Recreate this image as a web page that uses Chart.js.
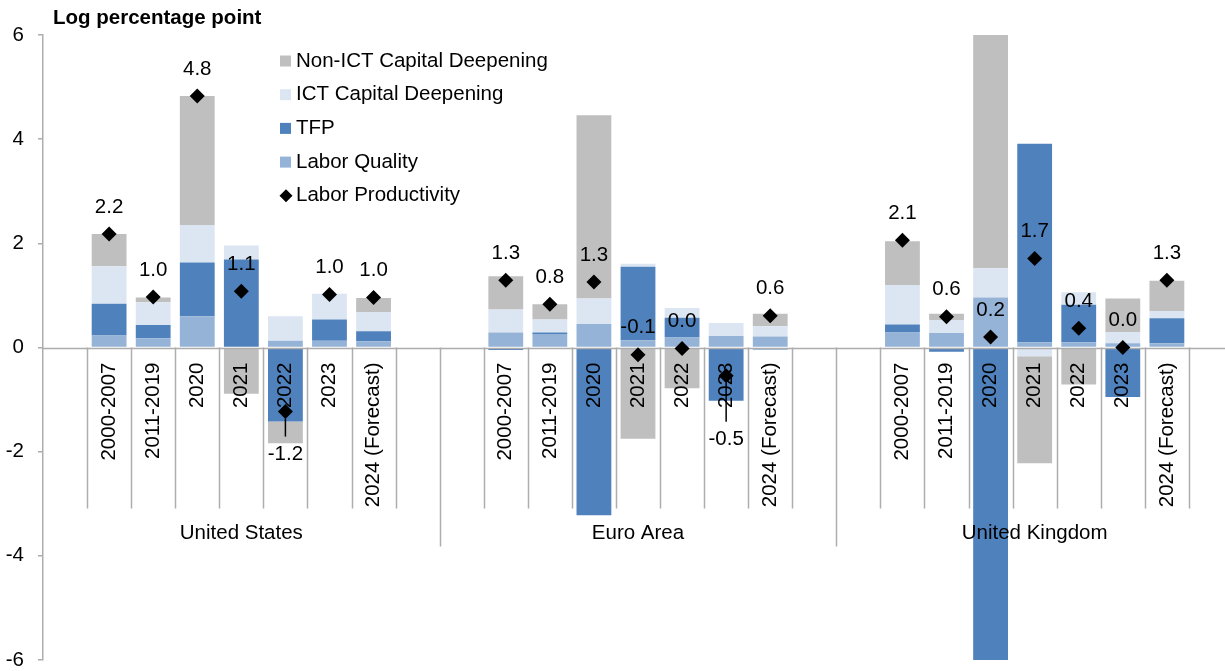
<!DOCTYPE html>
<html>
<head>
<meta charset="utf-8">
<script src="https://cdn.jsdelivr.net/npm/chart.js@4/dist/chart.umd.min.js"></script>
<style>
  html, body { margin: 0; padding: 0; background: #fff; overflow: hidden; }
  #wrap { width: 1233px; height: 671px; }
</style>
</head>
<body>
<div id="wrap"><canvas id="prodChart" width="1233" height="671"></canvas></div>
<script>
const groups = ["United States", "Euro Area", "United Kingdom"];
const periods = ["2000-2007", "2011-2019", "2020", "2021", "2022", "2023", "2024 (Forecast)"];
const yTicks = [-6, -4, -2, 0, 2, 4, 6];

// 7 values per group, in order US, Euro Area, UK
const laborQuality = [
  0.23, 0.18, 0.60, 0.00, 0.13, 0.13, 0.12,
  0.29, 0.26, 0.45, 0.14, 0.19, 0.22, 0.21,
  0.29, 0.28, 0.96, 0.10, 0.10, 0.08, 0.08,
];
const tfp = [
  0.61, 0.25, 1.03, 1.69, -1.42, 0.41, 0.19,
  -0.05, 0.03, -3.22, 1.41, 0.38, -1.02, -0.04,
  0.15, -0.08, -6.90, 3.81, 0.72, -0.95, 0.48,
];
const ictCapital = [
  0.72, 0.44, 0.72, 0.27, 0.47, 0.49, 0.37,
  0.44, 0.25, 0.49, 0.06, 0.19, 0.25, 0.20,
  0.76, 0.25, 0.56, -0.17, 0.24, 0.22, 0.14,
];
const nonIctCapital = [
  0.62, 0.09, 2.48, -0.89, -0.42, 0.00, 0.27,
  0.64, 0.29, 3.52, -1.75, -0.78, 0.00, 0.24,
  0.84, 0.12, 5.60, -2.05, -0.71, 0.64, 0.58,
];
const laborProductivity = [
  2.18, 0.97, 4.83, 1.08, -1.23, 1.02, 0.96,
  1.29, 0.83, 1.26, -0.14, -0.02, -0.54, 0.61,
  2.06, 0.59, 0.20, 1.71, 0.37, 0.00, 1.29,
];

const FONT = '"Liberation Sans", Arial, sans-serif';
const FSIZE = 20.5;
const AXIS_GREY = "#ADADAD";

// each group gets an empty slot on both sides
const slotLabels = [];
groups.forEach(() => slotLabels.push("", ...periods, ""));
function pad(values) {
  const out = [];
  groups.forEach((g, gi) => out.push(null, ...values.slice(gi * 7, gi * 7 + 7), null));
  return out;
}

// labels that sit below the marker with a leader line: padded index -> px below
const labelsBelow = { 5: 43, 15: 64 };

function fmt(v) {
  const s = v.toFixed(1);
  return s === "-0.0" ? "0.0" : s;
}

const decor = {
  id: "decor",
  beforeDatasetDraw(chart, args) {
    if (args.index !== 4) return;
    const ctx = chart.ctx;
    const x = chart.scales.x, y = chart.scales.y;
    const area = chart.chartArea;
    const y0 = y.getPixelForValue(0);
    const slot = (area.right - area.left) / slotLabels.length;
    ctx.save();
    // separators
    ctx.strokeStyle = AXIS_GREY;
    ctx.lineWidth = 1.5;
    for (let i = 1; i < slotLabels.length; i++) {
      const bx = Math.round(area.left + slot * i) + 0.5;
      const isGroupEdge = i % 9 === 0;
      const inGroup = i % 9 >= 1 && i % 9 <= 8;
      if (!isGroupEdge && !inGroup) continue;
      ctx.beginPath();
      ctx.moveTo(bx, y0);
      ctx.lineTo(bx, y0 + (isGroupEdge ? 199 : 161));
      ctx.stroke();
    }
    // zero line
    ctx.beginPath();
    ctx.moveTo(area.left, Math.round(y0) + 0.5);
    ctx.lineTo(area.right, Math.round(y0) + 0.5);
    ctx.stroke();

    // category labels
    ctx.fillStyle = "#000";
    ctx.font = FSIZE + "px " + FONT;
    slotLabels.forEach((lab, i) => {
      if (!lab) return;
      ctx.save();
      ctx.translate(x.getPixelForValue(i), y0 + 15);
      ctx.rotate(-Math.PI / 2);
      ctx.textAlign = "right";
      ctx.textBaseline = "middle";
      ctx.fillText(lab, 0, 0);
      ctx.restore();
    });
    // group labels
    ctx.textAlign = "center";
    ctx.textBaseline = "middle";
    groups.forEach((g, gi) => {
      ctx.fillText(g, x.getPixelForValue(gi * 9 + 4), y0 + 186);
    });
    ctx.restore();
  },
  afterDatasetsDraw(chart) {
    const ctx = chart.ctx;
    const meta = chart.getDatasetMeta(4);
    const vals = chart.data.datasets[4].data;
    ctx.save();
    ctx.fillStyle = "#000";
    ctx.strokeStyle = "#000";
    ctx.font = FSIZE + "px " + FONT;
    ctx.textAlign = "center";
    ctx.textBaseline = "middle";
    meta.data.forEach((pt, i) => {
      if (vals[i] === null) return;
      const below = labelsBelow[i];
      if (below) {
        ctx.lineWidth = 1.5;
        ctx.beginPath();
        ctx.moveTo(pt.x, pt.y + 7);
        ctx.lineTo(pt.x, pt.y + below - 18);
        ctx.stroke();
        ctx.fillText(fmt(vals[i]), pt.x, pt.y + below);
      } else {
        ctx.fillText(fmt(vals[i]), pt.x, pt.y - 27);
      }
    });

    // legend
    const order = [3, 2, 1, 0, 4];
    ctx.textAlign = "left";
    order.forEach((di, r) => {
      const ds = chart.data.datasets[di];
      const cy = 61 + r * 33.7;
      if (di === 4) {
        ctx.beginPath();
        ctx.moveTo(286, cy - 6.5);
        ctx.lineTo(292.5, cy);
        ctx.lineTo(286, cy + 6.5);
        ctx.lineTo(279.5, cy);
        ctx.closePath();
        ctx.fillStyle = "#000";
        ctx.fill();
      } else {
        ctx.fillStyle = ds.backgroundColor;
        ctx.fillRect(280, cy - 5.5, 11, 11);
      }
      ctx.fillStyle = "#000";
      ctx.fillText(ds.label, 296, cy);
    });

    // title
    ctx.font = "bold " + FSIZE + "px " + FONT;
    ctx.textBaseline = "alphabetic";
    ctx.fillText("Log percentage point", 53, 24);
    ctx.restore();
  },
};

function barSet(label, values, color) {
  return {
    type: "bar",
    label: label,
    data: pad(values),
    backgroundColor: color,
    borderWidth: 0,
    stack: "s",
    order: 1,
  };
}

new Chart(document.getElementById("prodChart"), {
  data: {
    labels: slotLabels,
    datasets: [
      barSet("Labor Quality", laborQuality, "#95B3D7"),
      barSet("TFP", tfp, "#4F81BD"),
      barSet("ICT Capital Deepening", ictCapital, "#DCE6F2"),
      barSet("Non-ICT Capital Deepening", nonIctCapital, "#BFBFBF"),
      {
        type: "line",
        label: "Labor Productivity",
        data: pad(laborProductivity),
        showLine: false,
        pointStyle: "rectRot",
        pointRadius: 7.5,
        pointBackgroundColor: "#000",
        pointBorderColor: "#000",
        pointBorderWidth: 0,
        order: 0,
      },
    ],
  },
  options: {
    responsive: false,
    animation: false,
    events: [],
    layout: { autoPadding: false, padding: { top: 35, bottom: 11, left: 0, right: 0 } },
    datasets: { bar: { barPercentage: 0.79, categoryPercentage: 1 } },
    plugins: { legend: { display: false }, tooltip: { enabled: false } },
    scales: {
      x: { display: false, stacked: true },
      y: {
        stacked: true,
        min: yTicks[0],
        max: yTicks[yTicks.length - 1],
        afterFit(s) { s.width = 43; s.paddingTop = 0; s.paddingBottom = 0; },
        afterBuildTicks(s) { s.ticks = yTicks.map(v => ({ value: v })); },
        ticks: {
          color: "#000",
          font: { family: FONT, size: FSIZE },
          padding: 14,
          callback: v => String(v),
        },
        grid: { drawOnChartArea: false, drawTicks: true, tickLength: 5, color: AXIS_GREY, lineWidth: 1.5 },
        border: { display: true, color: AXIS_GREY, width: 1.5 },
      },
    },
  },
  plugins: [decor],
});
</script>
</body>
</html>
